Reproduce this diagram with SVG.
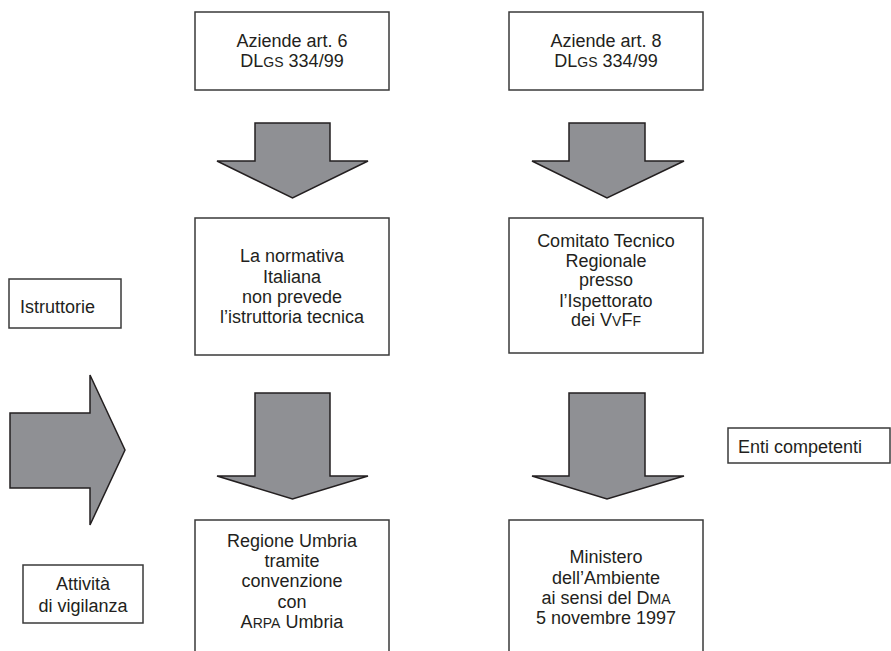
<svg xmlns="http://www.w3.org/2000/svg" width="891" height="651" viewBox="0 0 891 651">
<style>
.box{fill:#fff;stroke:#3a3a3a;stroke-width:1.5}
.arr{fill:#8f9094;stroke:#231f20;stroke-width:1.5;stroke-linejoin:miter}
text{font-family:"Liberation Sans",Arial,sans-serif;font-size:18px;fill:#231f20}
.c{text-anchor:middle}
.sc{font-size:14px}
</style>
<rect width="891" height="651" fill="#fff"/>
<g id="connectors">
<path class="arr" d="M255,123 H330 V161 H368 L292.5,198 L217,161 H255 Z"/>
<path class="arr" d="M569,123 H645 V161 H684 L607,198 L532,161 H569 Z"/>
<path class="arr" d="M255,393 H330 V476 H368 L292.5,499 L217,476 H255 Z"/>
<path class="arr" d="M569,393 H645 V476 H684 L607,499 L532,476 H569 Z"/>
<path class="arr" d="M10,413 H90 V375 L125,450 L90,525 V488 H10 Z"/>
</g>
<g id="n-art6">
<rect class="box" x="195" y="12" width="194" height="78"/>
<text class="c" x="292" y="47">Aziende art. 6</text>
<text class="c" x="292" y="67">DL<tspan class="sc">GS</tspan> 334/99</text>
</g>
<g id="n-art8">
<rect class="box" x="509" y="12" width="194" height="78"/>
<text class="c" x="606" y="47">Aziende art. 8</text>
<text class="c" x="606" y="67">DL<tspan class="sc">GS</tspan> 334/99</text>
</g>
<g id="n-normativa">
<rect class="box" x="195" y="218" width="194" height="137"/>
<text class="c" x="292" y="262">La normativa</text>
<text class="c" x="292" y="283">Italiana</text>
<text class="c" x="292" y="303">non prevede</text>
<text class="c" x="292" y="323">l’istruttoria tecnica</text>
</g>
<g id="n-comitato">
<rect class="box" x="509" y="218" width="194" height="135"/>
<text class="c" x="606" y="247">Comitato Tecnico</text>
<text class="c" x="606" y="267">Regionale</text>
<text class="c" x="606" y="286">presso</text>
<text class="c" x="606" y="307">l’Ispettorato</text>
<text class="c" x="606" y="326">dei V<tspan class="sc">V</tspan>F<tspan class="sc">F</tspan></text>
</g>
<g id="n-regione">
<rect class="box" x="195" y="520" width="194" height="145"/>
<text class="c" x="292" y="547">Regione Umbria</text>
<text class="c" x="292" y="567">tramite</text>
<text class="c" x="292" y="587">convenzione</text>
<text class="c" x="292" y="608">con</text>
<text class="c" x="292" y="628">A<tspan class="sc">RPA</tspan> Umbria</text>
</g>
<g id="n-ministero">
<rect class="box" x="509" y="520" width="194" height="145"/>
<text class="c" x="606" y="563">Ministero</text>
<text class="c" x="606" y="584">dell’Ambiente</text>
<text class="c" x="606" y="604">ai sensi del D<tspan class="sc">MA</tspan></text>
<text class="c" x="606" y="624">5 novembre 1997</text>
</g>
<g id="n-istruttorie">
<rect class="box" x="9" y="279" width="112" height="49"/>
<text x="20" y="313">Istruttorie</text>
</g>
<g id="n-enti">
<rect class="box" x="728" y="428" width="162" height="35"/>
<text x="738" y="453">Enti competenti</text>
</g>
<g id="n-vigilanza">
<rect class="box" x="23" y="565" width="120" height="58"/>
<text class="c" x="83" y="590">Attività</text>
<text class="c" x="83" y="612">di vigilanza</text>
</g>
</svg>
